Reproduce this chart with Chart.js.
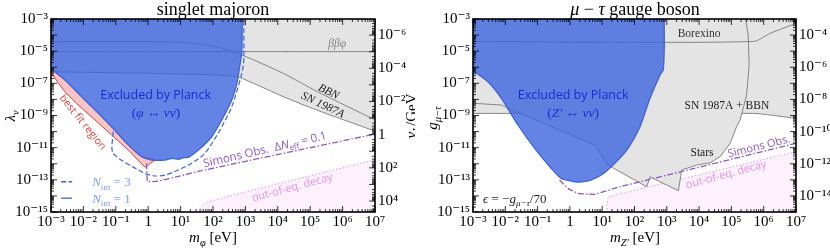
<!DOCTYPE html>
<html>
<head>
<meta charset="utf-8">
<script src="https://cdn.jsdelivr.net/npm/chart.js@4.4.1/dist/chart.umd.min.js"></script>
<style>
  html, body { margin: 0; padding: 0; background: #fff; }
  #wrap { position: relative; width: 830px; height: 252px; overflow: hidden; }
  canvas { position: absolute; top: 0; }
</style>
</head>
<body>
<div id="wrap">
  <canvas id="majoron" width="415" height="252" style="left:0"></canvas>
  <canvas id="gauge" width="415" height="252" style="left:415px"></canvas>
</div>
<script>
// all values are [log10(m / eV), log10(coupling)]

// --- singlet majoron ---
const majPlanck1 = [[-3, -6.1], [-2.57, -6.79], [-2.16, -7.62], [-1.64, -8.66], [-1.13, -9.7], [-0.61, -10.84],
  [-0.2, -11.56], [0.11, -11.77], [0.52, -11.77], [0.75, -11.66], [0.93, -11.72], [1.1, -11.62], [1.24, -11.6],
  [1.55, -11.15], [1.96, -10.32], [2.27, -9.28], [2.58, -8.04], [2.75, -6.9], [2.83, -5.86], [2.89, -5.05], [2.9, -3]]
const majPlanck3 = [[-1.08, -10.0], [-1.08, -11.35], [-0.1, -12.6], [0.21, -12.76], [0.52, -12.7], [0.93, -12.39],
  [1.34, -11.97], [1.75, -11.35], [2.16, -10.1], [2.58, -8.45], [2.89, -6.38], [2.95, -5.55], [2.95, -3]]
const bestFitLow = [[-3, -6.3], [-2.77, -7.0], [-2.57, -7.52], [-2.16, -8.35], [-1.64, -9.28], [-1.13, -10.21],
  [-0.61, -11.15], [-0.1, -12.22], [0.21, -11.77]]
const bestFitHigh = [[-3, -6.1], [-2.57, -6.79], [-2.16, -7.62], [-1.64, -8.66], [-1.13, -9.7], [-0.61, -10.84],
  [-0.2, -11.56], [0.21, -11.77]]
const majSimons = [[-0.05, -11.97], [-0.02, -13.1], [0.3, -13.08], [1.0, -12.75], [1.6, -12.45], [7, -10.15]]
const majDecay = [[1.55, -15.5], [1.6, -14.8], [1.7, -14.55], [1.86, -14.36], [3.6, -13.45], [7, -11.76]]
const majBBN = [[-3, -4.41], [0.06, -4.41], [1.08, -4.45], [2.11, -4.72], [2.89, -5.24], [4.17, -6.38],
  [5.2, -7.5], [7, -9.27]]
const majBetaBeta = [[-3, -5.03], [7, -5.03]]
const majSN = [[-3, -6.28], [0.06, -6.38], [2.11, -6.48], [2.73, -6.59], [3.14, -6.9], [4.17, -7.83],
  [5.2, -8.66], [7, -9.97]]

// --- mu - tau gauge boson ---
const zpPlanck = [[-3, -6.2], [-2.54, -6.9], [-2.12, -7.93], [-1.61, -9.59], [-1.09, -11.04], [-0.58, -12.28],
  [-0.27, -12.91], [0.15, -13.12], [0.56, -13.07], [0.97, -12.7], [1.39, -11.97], [1.8, -11.04], [2.17, -9.7],
  [2.48, -7.93], [2.79, -6.48], [2.89, -6.17], [2.92, -4.82], [2.92, -3]]
const zpStars = [[-3, -8.24], [-2.12, -8.35], [0.77, -10.84], [1.18, -12.08], [1.55, -12.5], [2.38, -13.43],
  [2.48, -12.81], [3.36, -13.68], [3.46, -12.39], [3.93, -12.08], [4.34, -11.94], [4.65, -11.56], [4.96, -10.73],
  [5.16, -9.7], [5.27, -9.28], [5.47, -7.73], [5.55, -5.86], [5.52, -4.0], [5.44, -3]]
const zpSNBBN = [[-3, -8.87], [5.68, -8.87], [6.2, -8.97], [7, -9.18]]
const zpBorexino = [[-3, -4.4], [5.68, -4.4], [6.2, -3.89], [7, -3.27]]
const zpSimons = [[-0.32, -13.01], [-0.06, -13.53], [0.25, -13.84], [0.77, -13.9], [1.55, -13.43], [7, -10.73]]
const zpDecay = [[1.13, -15.5], [1.18, -14.15], [1.39, -13.95], [7, -11.25]]

// tick exponents
const xTickExp = [-3, -2, -1, 0, 1, 2, 3, 4, 5, 6, 7]
const yTickExp = [-3, -5, -7, -9, -11, -13, -15]
const vLTickExp = [-6, -4, -2, 0, 2, 4]
const y2TickExp = [-4, -6, -8, -10, -12, -14]

const SERIF = '"Liberation Serif", "DejaVu Serif", serif'
const SANS = '"Open Sans", "DejaVu Sans", sans-serif'
const GRAY_FILL = '#e4e4e4'
const GRAY_LINE = '#858585'
const BLUE_FILL = 'rgba(60, 100, 222, 0.8)'
const BLUE_LINE = '#3c62e0'
const PURPLE = '#8e56c8'
const PINK_LINE = '#e491e4'
const PINK_FILL = 'rgba(245, 215, 245, 0.35)'

const SUP = { '-': '⁻', '0': '⁰', '1': '¹', '2': '²', '3': '³', '4': '⁴', '5': '⁵', '6': '⁶', '7': '⁷', '8': '⁸', '9': '⁹' }
const pow10 = e => e === 0 ? '1' : '10' + String(e).split('').map(c => SUP[c]).join('')
const expOf = v => Math.round(Math.log10(v))

const pts = arr => arr.map(([lx, ly]) => ({ x: 10 ** lx, y: 10 ** ly }))
// close a curve up to the top of the plot so it can be filled as a shape
const closeTop = arr => {
  const first = arr[0], last = arr[arr.length - 1]
  return [...arr, [last[0], -2.7], [-3.3, -2.7], [-3.3, first[1]], first]
}

function line(data, color, extra = {}) {
  return {
    data: pts(data), borderColor: color, borderWidth: 1, pointRadius: 0, fill: false,
    tension: 0.25, yAxisID: 'y', ...extra,
  }
}

function richText(ctx, parts, x, y, opt = {}) {
  const size = opt.size || 14
  const family = opt.family || SERIF
  ctx.save()
  ctx.translate(x, y)
  ctx.rotate((opt.angle || 0) * Math.PI / 180)
  ctx.fillStyle = opt.color || '#000'
  ctx.textBaseline = 'alphabetic'
  const fontOf = p => `${p.i ? 'italic ' : ''}${p.sub || p.sup ? size * 0.7 : size}px ${p.family || family}`
  let w = 0
  for (const p of parts) { ctx.font = fontOf(p); p.w = ctx.measureText(p.t).width; w += p.w }
  let cx = opt.align === 'left' ? 0 : opt.align === 'right' ? -w : -w / 2
  for (const p of parts) {
    ctx.font = fontOf(p)
    const dy = p.sub ? size * 0.25 : p.sup ? -size * 0.4 : 0
    ctx.fillText(p.t, cx, size * 0.35 + dy)
    cx += p.w
  }
  ctx.restore()
}

const frameTicks = {
  id: 'frameTicks',
  afterDatasetsDraw(chart) {
    const { ctx, chartArea: a, scales } = chart
    const marks = scale => {
      const out = []
      const lo = Math.floor(Math.log10(scale.min) + 1e-9), hi = Math.ceil(Math.log10(scale.max) - 1e-9)
      for (let e = lo; e <= hi; e++) for (let k = 1; k <= 9; k++) {
        const v = k * 10 ** e
        if (v >= scale.min * 0.9999 && v <= scale.max * 1.0001) out.push([scale.getPixelForValue(v), k === 1 ? 6 : 3])
      }
      return out
    }
    ctx.save()
    ctx.strokeStyle = '#000'
    ctx.lineWidth = 0.8
    ctx.beginPath()
    for (const [p, l] of marks(scales.x)) { ctx.moveTo(p, a.bottom); ctx.lineTo(p, a.bottom - l); ctx.moveTo(p, a.top); ctx.lineTo(p, a.top + l) }
    for (const [p, l] of marks(scales.y)) { ctx.moveTo(a.left, p); ctx.lineTo(a.left + l, p) }
    for (const [p, l] of marks(scales.y2)) { ctx.moveTo(a.right, p); ctx.lineTo(a.right - l, p) }
    ctx.stroke()
    ctx.lineWidth = 1.6
    ctx.strokeRect(a.left, a.top, a.right - a.left, a.bottom - a.top)
    ctx.restore()
  },
}

function textLayer(items) {
  return {
    id: 'textLayer',
    afterDraw(chart) {
      const { ctx, scales } = chart
      for (const it of items) {
        let x, y
        if (it.at) { x = scales.x.getPixelForValue(10 ** it.at[0]); y = scales.y.getPixelForValue(10 ** it.at[1]) }
        else { [x, y] = it.px }
        if (it.key) {
          const x2 = scales.x.getPixelForValue(10 ** it.key[0])
          ctx.save()
          ctx.strokeStyle = it.key[1]
          ctx.lineWidth = 1.3
          ctx.setLineDash(it.key[2])
          ctx.beginPath(); ctx.moveTo(x - 31, y); ctx.lineTo(x2 - 10, y); ctx.stroke()
          ctx.restore()
        }
        richText(ctx, it.parts, x, y, it)
      }
    },
  }
}

function axes(y2) {
  const fit = (w, h) => s => { if (w) s.width = w; if (h) s.height = h }
  const tickFont = { family: SERIF, size: 15 }
  const setTicks = exps => s => { s.ticks = exps.map(e => ({ value: 10 ** e })) }
  return {
    x: {
      type: 'logarithmic', min: 1e-3, max: 1e7, position: 'bottom',
      grid: { display: false, drawTicks: false }, border: { display: false },
      afterBuildTicks: setTicks(xTickExp), afterFit: fit(0, 40),
      ticks: { callback: v => pow10(expOf(v)), font: tickFont, color: '#000', padding: 1, maxRotation: 0, autoSkip: false },
    },
    y: {
      type: 'logarithmic', min: 1e-15, max: 1e-3, position: 'left',
      grid: { display: false, drawTicks: false }, border: { display: false },
      afterBuildTicks: setTicks(yTickExp), afterFit: fit(y2.leftWidth, 0),
      ticks: { callback: v => pow10(expOf(v)), font: tickFont, color: '#000', padding: 3, autoSkip: false },
    },
    y2: {
      type: 'logarithmic', min: y2.min, max: y2.max, reverse: y2.reverse, position: 'right',
      grid: { display: false, drawTicks: false }, border: { display: false },
      afterBuildTicks: setTicks(y2.exps), afterFit: fit(y2.rightWidth, 0),
      ticks: { callback: v => pow10(expOf(v)), font: tickFont, color: '#000', padding: 3, autoSkip: false },
    },
  }
}

function options(y2) {
  return {
    responsive: false, animation: false, devicePixelRatio: 1,
    layout: { padding: { top: 19, left: 0, right: 0, bottom: 0 } },
    plugins: { legend: { display: false }, tooltip: { enabled: false }, title: { display: false } },
    scales: axes(y2),
  }
}

const I = t => ({ t, i: true })
const R = t => ({ t })
const SUB = (t, i = true) => ({ t, sub: true, i })

// ---------- left panel ----------
new Chart(document.getElementById('majoron'), {
  type: 'line',
  data: {
    datasets: [
      line(majSimons, PURPLE, { borderWidth: 1.3, borderDash: [6, 2, 1.5, 2], tension: 0.1, order: 0 }),
      line(majPlanck3, BLUE_LINE, { borderWidth: 1.2, borderDash: [5, 2.5], order: 1 }),
      line(closeTop(majPlanck1), BLUE_LINE, { borderWidth: 1.3, backgroundColor: BLUE_FILL, fill: 'shape', tension: 0.2, order: 2 }),
      line([...bestFitLow, ...bestFitHigh.slice().reverse()], '#e23b3b', { borderWidth: 1, backgroundColor: 'rgba(240,150,150,0.55)', fill: 'shape', tension: 0, order: 3 }),
      line(majBetaBeta, GRAY_LINE, { order: 4 }),
      line(majBBN, GRAY_LINE, { order: 5 }),
      line(majSN, GRAY_LINE, { backgroundColor: GRAY_FILL, fill: 'end', order: 6 }),
      line(majDecay, PINK_LINE, { borderDash: [1.5, 2], backgroundColor: PINK_FILL, fill: 'start', tension: 0.2, order: 7 }),
    ],
  },
  options: options({ min: 10 ** -6.97, max: 10 ** 4.66, reverse: true, exps: vLTickExp, leftWidth: 51, rightWidth: 40 }),
  plugins: [frameTicks, textLayer([
    { px: [213, 9], parts: [R('singlet majoron')], size: 18 },
    { px: [213, 237], parts: [I('m'), SUB('φ'), R(' [eV]')], size: 15 },
    { px: [10, 116], parts: [I('λ'), SUB('ν')], size: 15, angle: -90 },
    { px: [411, 116], parts: [I('v'), SUB('L'), R('/GeV')], size: 15, angle: -90 },
    { at: [0.23, -7.73], parts: [R('Excluded by Planck')], family: SANS, size: 12.5, color: '#1c2cd6' },
    { at: [0.24, -8.78], parts: [R('('), I('φ'), R(' ↔ '), I('νν̄'), R(')')], size: 13.5, color: '#1c2cd6' },
    { at: [-2.01, -9.4], parts: [R('best fit region')], family: SANS, size: 10.5, color: '#e23b3b', angle: 51 },
    { at: [3.6, -11.1], parts: [R('Simons Obs.  Δ'), I('N'), SUB('eff', false), R(' = 0.1')], family: SANS, size: 11.5, color: PURPLE, angle: -13 },
    { at: [4.44, -13.45], parts: [R('out-of-eq. decay')], family: SANS, size: 11, color: PINK_LINE, angle: -15 },
    { at: [5.83, -4.5], parts: [I('ββφ')], size: 11.5, color: GRAY_LINE },
    { at: [5.58, -7.48], parts: [I('BBN')], size: 11.5, color: '#222', angle: 26 },
    { at: [5.4, -8.3], parts: [I('SN 1987A')], size: 11.5, color: '#222', angle: 25 },
    { at: [-1.73, -13.12], key: [-2.04, BLUE_LINE, [5, 2.5]], parts: [I('N'), SUB('int', false), R(' = 3')], size: 13, color: '#7d9cf0', align: 'left' },
    { at: [-1.73, -14.14], key: [-2.04, BLUE_LINE, []], parts: [I('N'), SUB('int', false), R(' = 1')], size: 13, color: '#7d9cf0', align: 'left' },
  ])],
})

// ---------- right panel ----------
new Chart(document.getElementById('gauge'), {
  type: 'line',
  data: {
    datasets: [
      line(zpSimons, PURPLE, { borderWidth: 1.3, borderDash: [6, 2, 1.5, 2], tension: 0.1, order: 0 }),
      line(closeTop(zpPlanck), BLUE_LINE, { borderWidth: 1.3, backgroundColor: BLUE_FILL, fill: 'shape', tension: 0.2, order: 1 }),
      line(zpBorexino, GRAY_LINE, { order: 2 }),
      line(closeTop(zpStars), GRAY_LINE, { backgroundColor: GRAY_FILL, fill: 'shape', tension: 0, order: 3 }),
      line(zpSNBBN, GRAY_LINE, { backgroundColor: GRAY_FILL, fill: 'end', order: 4 }),
      line(zpDecay, PINK_LINE, { borderDash: [1.5, 2], backgroundColor: PINK_FILL, fill: 'start', tension: 0.2, order: 5 }),
    ],
  },
  options: options({ min: 1e-15, max: 1e-3, reverse: false, exps: y2TickExp, leftWidth: 58, rightWidth: 34 }),
  plugins: [frameTicks, textLayer([
    { px: [220, 9], parts: [I('μ'), R(' − '), I('τ'), R(' gauge boson')], size: 18 },
    { px: [220, 237], parts: [I('m'), SUB('Z′'), R(' [eV]')], size: 15 },
    { px: [17, 118], parts: [I('g'), SUB('μ−τ')], size: 15, angle: -90 },
    { at: [0.1, -7.73], parts: [R('Excluded by Planck')], family: SANS, size: 12.5, color: '#1c2cd6' },
    { at: [0.1, -8.8], parts: [R('('), I('Z′'), R(' ↔ '), I('νν̄'), R(')')], size: 13.5, color: '#1c2cd6' },
    { at: [4.0, -3.87], parts: [R('Borexino')], size: 11.5, color: '#333' },
    { at: [4.86, -8.35], parts: [R('SN 1987A + BBN')], size: 11.5, color: '#222' },
    { at: [4.09, -11.27], parts: [R('Stars')], size: 11.5, color: '#222' },
    { at: [5.85, -10.9], parts: [R('Simons Obs.')], family: SANS, size: 11, color: PURPLE, angle: -14 },
    { at: [4.83, -12.64], parts: [R('out-of-eq. decay')], family: SANS, size: 11, color: PINK_LINE, angle: -15 },
    { at: [-2.69, -14.13], parts: [I('ϵ'), R(' = −'), I('g'), SUB('μ−τ'), R('/70')], size: 13, color: '#222', align: 'left' },
  ])],
})
</script>
</body>
</html>
